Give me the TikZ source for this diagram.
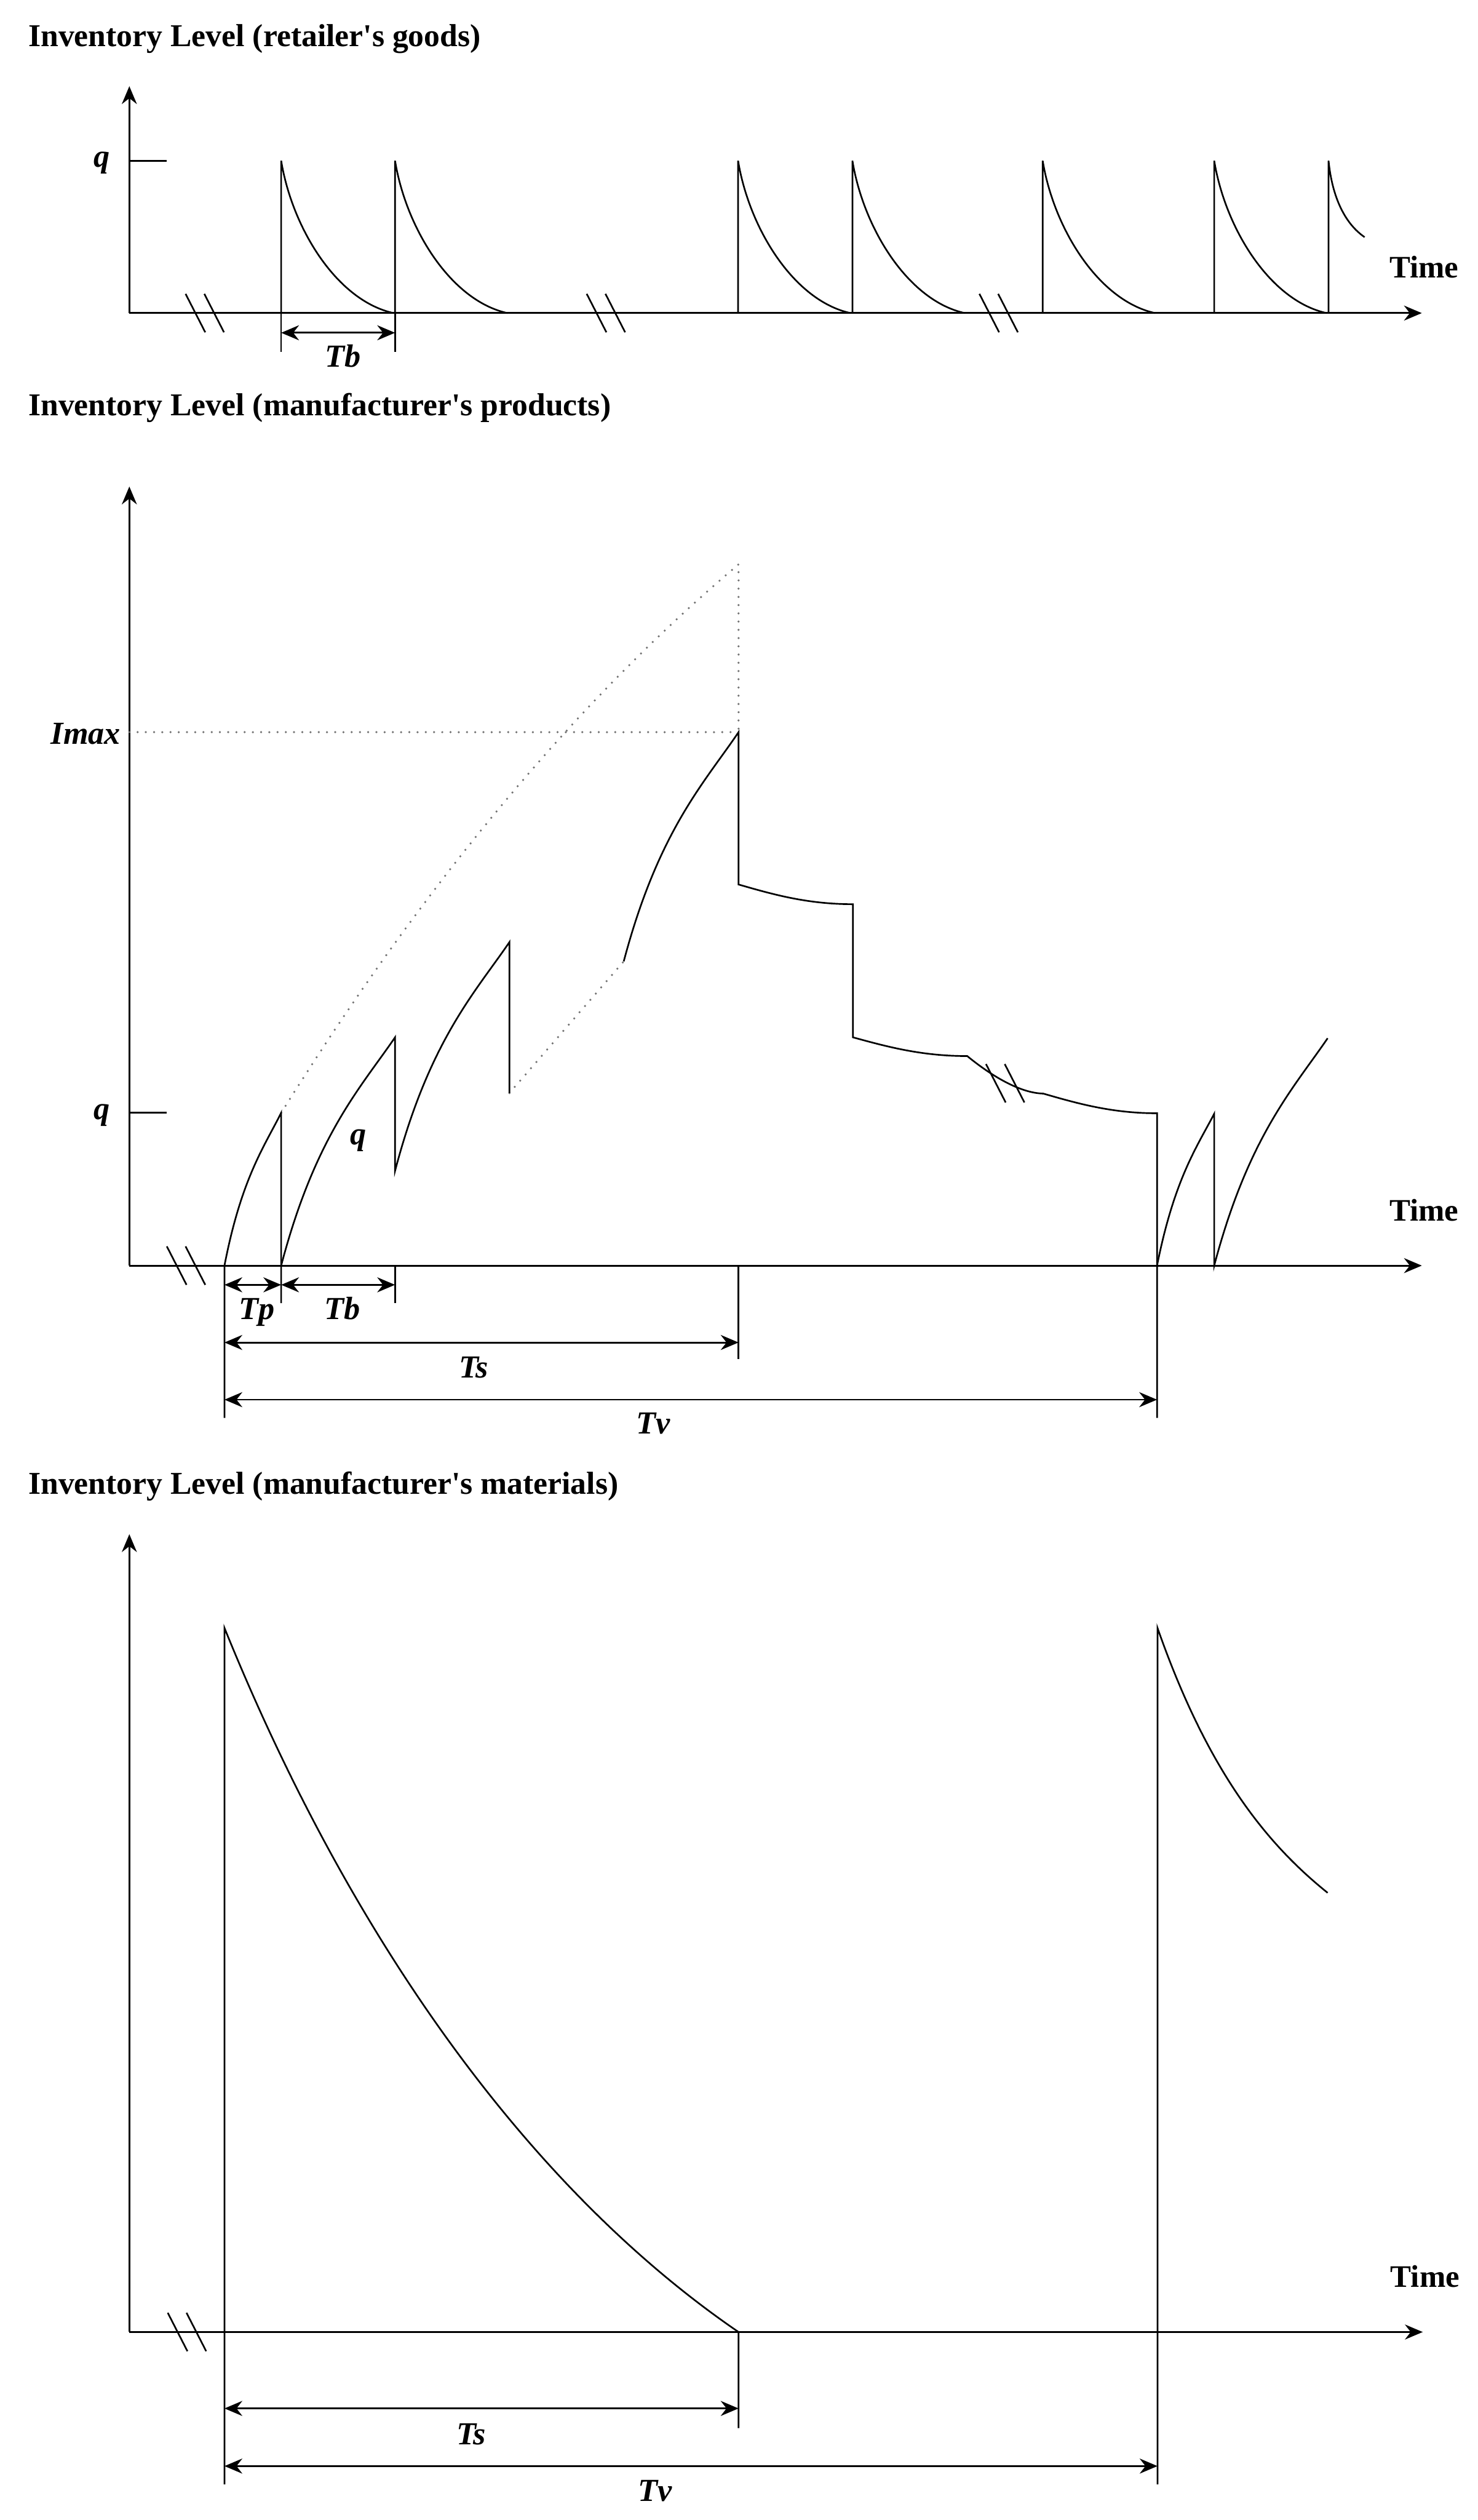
\documentclass[tikz,border=0pt]{standalone}
\usepackage{fontspec}
\setmainfont{Liberation Serif}
\usetikzlibrary{arrows.meta}

\tikzset{
  axe/.style={line width=1.1pt, -{Stealth[length=0.38cm,width=0.32cm]}},
  trait/.style={line width=1pt},
  pointille/.style={black!55, line width=1.4pt, line cap=round, dash pattern=on 0pt off 5pt},
  cote/.style={line width=1.1pt, {Stealth[length=0.38cm,width=0.32cm]}-{Stealth[length=0.38cm,width=0.32cm]}},
  titre/.style={anchor=base west, inner sep=0pt, font=\fontsize{19.3}{23}\selectfont\bfseries},
  temps/.style={inner sep=0pt, font=\fontsize{19}{23}\selectfont\bfseries},
  etiq/.style={inner sep=0pt, font=\fontsize{19.5}{23}\selectfont\bfseries\itshape},
}
% double trait de coupure
\newcommand{\cassure}[2]{%
  \draw[trait] ({#1},{#2+0.41}) -- ++(0.42,-0.82);
  \draw[trait] ({#1+0.40},{#2+0.41}) -- ++(0.42,-0.82);}

\begin{document}
\begin{tikzpicture}
    \useasboundingbox (0,0) rectangle (31.53,53.76);

    % Stock du detaillant
    \begin{scope}[shift={(2.76,47.08)}]
        \node[titre] (titreA) at (-2.16,5.69) {Inventory Level (retailer\textquotesingle s goods)};
        \draw[axe] (0,0) -- (0,4.84);
        \draw[axe] (0,0) -- (27.58,0);
        \node[temps] (tempsA) at (27.63,0.98) {Time};
        \draw[trait] (0,3.25) -- (0.80,3.25);
        \node[etiq] (qA) at (-0.59,3.20) {q};
        \cassure{1.20}{0}
        \cassure{9.76}{0}
        \cassure{18.14}{0}
        \foreach \x in {3.24,5.67,12.99,15.43,19.49,23.15}
            \draw[trait] (\x,0) -- (\x,3.25) .. controls ({\x+0.24},1.79) and ({\x+1.20},0.26) .. ({\x+2.40},0);
        \draw[trait] (25.59,0) -- (25.59,3.25) .. controls (25.67,2.45) and (25.95,1.90) .. (26.36,1.62);
        % cote Tb
        \draw[trait] (3.24,0) -- (3.24,-0.83);
        \draw[trait] (5.67,0) -- (5.67,-0.83);
        \draw[cote] (3.24,-0.42) -- (5.67,-0.42);
        \node[etiq, anchor=base] (tbA) at (4.56,-1.15) {Tb};
    \end{scope}

    % Stock de produits du fabricant
    \begin{scope}[shift={(2.76,26.76)}]
        \node[titre] (titreB) at (-2.16,18.13) {Inventory Level (manufacturer\textquotesingle s products)};
        \draw[axe] (0,0) -- (0,16.62);
        \draw[axe] (0,0) -- (27.58,0);
        \node[temps] (tempsB) at (27.63,1.18) {Time};
        \draw[trait] (0,3.26) -- (0.80,3.26);
        \node[etiq] (qB) at (-0.59,3.21) {q};
        \node[etiq, anchor=east] (imax) at (-0.18,11.34) {Imax};
        \cassure{0.80}{0}
        \cassure{18.28}{3.89}
        % enveloppe en pointilles
        \draw[pointille] (0,11.38) -- (13.00,11.38);
        \draw[pointille] (3.24,3.26) .. controls (6.49,8.46) and (9.74,12.20) .. (13.00,14.96) -- (13.00,11.38);
        \draw[pointille] (8.11,3.68) -- (10.55,6.49);
        % lots de production
        \draw[trait] (2.03,-3.25) -- (2.03,0) .. controls (2.39,1.86) and (2.88,2.54) .. (3.24,3.26) -- (3.24,-0.80);
        \draw[trait] (3.24,0) .. controls (3.97,2.78) and (4.94,3.80) .. (5.67,4.87) -- (5.67,2.02)
            .. controls (6.40,4.80) and (7.38,5.83) .. (8.11,6.90) -- (8.11,3.68);
        \draw[trait] (5.67,0) -- (5.67,-0.80);
        \draw[trait] (13.00,0) -- (13.00,-2.00);
        % pic puis escalier
        \draw[trait] (10.55,6.49) .. controls (11.29,9.28) and (12.27,10.30) .. (13.00,11.38) -- (13.00,8.13)
            .. controls (13.73,7.92) and (14.46,7.71) .. (15.44,7.71) -- (15.44,4.87)
            .. controls (16.17,4.67) and (16.90,4.47) .. (17.88,4.47)
            .. controls (18.38,4.06) and (19.00,3.68) .. (19.50,3.67)
            .. controls (20.23,3.46) and (20.96,3.25) .. (21.93,3.25) -- (21.93,-3.25);
        \draw[trait] (21.93,0) .. controls (22.30,1.85) and (22.78,2.53) .. (23.15,3.24) -- (23.15,0)
            .. controls (23.88,2.76) and (24.84,3.78) .. (25.57,4.85);
        % cotes
        \draw[cote] (2.03,-0.41) -- (3.24,-0.41);
        \draw[cote] (3.24,-0.41) -- (5.67,-0.41);
        \draw[cote] (2.03,-1.64) -- (13.00,-1.64);
        \draw[cote] (2.03,-2.86) -- (21.93,-2.86);
        \node[etiq] (qmil) at (4.88,2.67) {q};
        \node[etiq, anchor=base] (tpB) at (2.72,-1.15) {Tp};
        \node[etiq, anchor=base] (tbB) at (4.55,-1.15) {Tb};
        \node[etiq, anchor=base] (tsB) at (7.35,-2.39) {Ts};
        \node[etiq, anchor=base] (tvB) at (11.18,-3.59) {Tv};
    \end{scope}

    % Stock de matieres du fabricant
    \begin{scope}[shift={(2.76,4.01)}]
        \node[titre] (titreC) at (-2.16,17.88) {Inventory Level (manufacturer\textquotesingle s materials)};
        \draw[axe] (0,0) -- (0,17.02);
        \draw[axe] (0,0) -- (27.60,0);
        \node[temps] (tempsC) at (27.65,1.19) {Time};
        \cassure{0.82}{0}
        \draw[trait] (2.03,-3.25) -- (2.03,15.02) .. controls (4.77,8.26) and (8.61,3.00) .. (13.00,0) -- (13.00,-2.05);
        \draw[trait] (21.94,-3.25) -- (21.94,15.02) .. controls (23.03,11.91) and (24.30,10.39) .. (25.57,9.37);
        % cotes
        \draw[cote] (2.03,-1.63) -- (13.00,-1.63);
        \draw[cote] (2.03,-2.86) -- (21.94,-2.86);
        \node[etiq, anchor=base] (tsC) at (7.29,-2.40) {Ts};
        \node[etiq, anchor=base] (tvC) at (11.22,-3.61) {Tv};
    \end{scope}
\end{tikzpicture}
\end{document}
